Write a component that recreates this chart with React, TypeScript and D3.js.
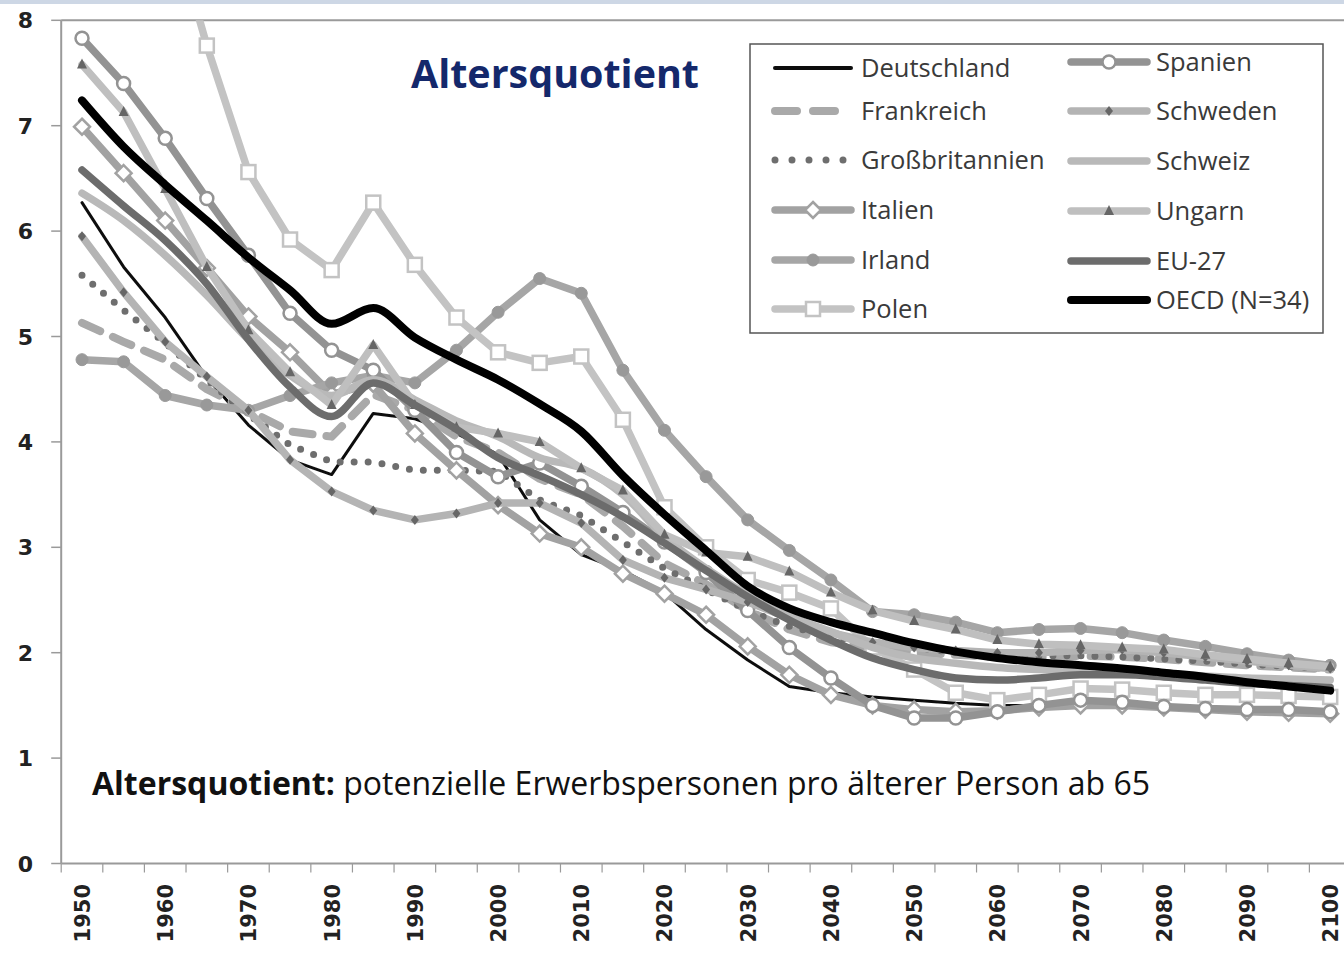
import React from "react";
import * as d3 from "d3";

const years = [1950,1955,1960,1965,1970,1975,1980,1985,1990,1995,2000,2005,2010,2015,2020,2025,2030,2035,2040,2045,2050,2055,2060,2065,2070,2075,2080,2085,2090,2095,2100];
const yearLabels = [1950,1960,1970,1980,1990,2000,2010,2020,2030,2040,2050,2060,2070,2080,2090,2100];
const yTicks = [0,1,2,3,4,5,6,7,8];

const deutschland = [6.27,5.66,5.18,4.61,4.16,3.83,3.69,4.27,4.22,4.08,3.88,3.26,2.93,2.78,2.57,2.22,1.93,1.68,1.62,1.58,1.55,1.52,1.50,1.50,1.50,1.50,1.49,1.47,1.45,1.43,1.41];
const frankreich = [5.13,4.95,4.78,4.50,4.30,4.10,4.05,4.45,4.30,4.05,3.90,3.65,3.50,3.20,2.85,2.65,2.40,2.22,2.10,2.05,2.00,1.98,1.96,1.96,1.97,1.96,1.94,1.91,1.88,1.86,1.84];
const grossbritannien = [5.58,5.25,4.94,4.59,4.26,3.97,3.81,3.81,3.73,3.73,3.72,3.45,3.30,3.05,2.80,2.60,2.40,2.25,2.15,2.10,2.05,2.00,1.98,1.97,1.97,1.96,1.94,1.92,1.89,1.87,1.85];
const italien = [6.99,6.55,6.10,5.65,5.19,4.85,4.45,4.55,4.08,3.73,3.40,3.13,3.00,2.75,2.56,2.36,2.06,1.79,1.60,1.50,1.46,1.44,1.45,1.48,1.50,1.50,1.48,1.46,1.44,1.43,1.42];
const irland = [4.78,4.76,4.44,4.35,4.30,4.44,4.56,4.63,4.56,4.87,5.23,5.55,5.41,4.68,4.11,3.67,3.26,2.97,2.69,2.39,2.36,2.29,2.19,2.22,2.23,2.19,2.12,2.06,1.99,1.93,1.88];
const polen = [9.00,9.10,9.15,7.76,6.56,5.92,5.63,6.27,5.68,5.18,4.85,4.75,4.81,4.21,3.38,3.00,2.69,2.57,2.42,2.05,1.84,1.62,1.55,1.60,1.66,1.65,1.62,1.60,1.60,1.59,1.58];
const spanien = [7.83,7.40,6.88,6.31,5.77,5.22,4.87,4.68,4.30,3.90,3.67,3.80,3.58,3.33,3.05,2.76,2.40,2.05,1.76,1.50,1.38,1.38,1.44,1.50,1.55,1.53,1.49,1.47,1.46,1.46,1.44];
const schweden = [5.95,5.42,4.95,4.62,4.30,3.83,3.53,3.35,3.26,3.32,3.42,3.42,3.23,2.88,2.71,2.60,2.48,2.33,2.19,2.10,2.05,2.02,2.00,2.00,2.02,2.03,2.00,1.96,1.92,1.88,1.85];
const schweiz = [6.36,6.10,5.77,5.39,4.97,4.63,4.44,4.59,4.40,4.20,4.05,3.85,3.75,3.50,3.10,2.80,2.55,2.35,2.20,2.05,1.95,1.90,1.86,1.84,1.83,1.82,1.80,1.78,1.76,1.75,1.74];
const ungarn = [7.58,7.13,6.40,5.66,5.06,4.66,4.35,4.92,4.35,4.14,4.08,4.00,3.75,3.54,3.12,2.95,2.91,2.77,2.57,2.40,2.30,2.22,2.12,2.08,2.07,2.05,2.03,1.98,1.94,1.90,1.87];
const eu27 = [6.58,6.24,5.91,5.50,4.97,4.52,4.24,4.56,4.35,4.12,3.85,3.68,3.50,3.29,3.04,2.78,2.53,2.31,2.12,1.95,1.84,1.76,1.74,1.76,1.79,1.79,1.77,1.74,1.71,1.69,1.67];
const oecd = [7.24,6.80,6.44,6.10,5.75,5.44,5.12,5.27,4.99,4.78,4.59,4.36,4.10,3.68,3.31,2.97,2.63,2.42,2.29,2.19,2.09,2.01,1.95,1.91,1.88,1.85,1.81,1.77,1.72,1.68,1.64];

type Marker = "none" | "circleWhite" | "diamondWhite" | "circleGray" | "squareWhite" | "diamondDark" | "triangleDark";
interface Series { name: string; values: number[]; color: string; width: number; dash?: string; marker: Marker; markerColor?: string; smooth?: boolean; }

const series: Series[] = [
  { name: "Deutschland", values: deutschland, color: "#111", width: 3, marker: "none" },
  { name: "Frankreich", values: frankreich, color: "#a9a9a9", width: 8, dash: "20 14", marker: "none" },
  { name: "Großbritannien", values: grossbritannien, color: "#6e6e6e", width: 7, dash: "0 14", marker: "none" },
  { name: "Italien", values: italien, color: "#a2a2a2", width: 7.5, marker: "diamondWhite" },
  { name: "Irland", values: irland, color: "#a6a6a6", width: 7.5, marker: "circleGray", markerColor: "#999" },
  { name: "Polen", values: polen, color: "#c3c3c3", width: 7.5, marker: "squareWhite" },
  { name: "Spanien", values: spanien, color: "#939393", width: 7.5, marker: "circleWhite" },
  { name: "Schweden", values: schweden, color: "#b4b4b4", width: 7.5, marker: "diamondDark", markerColor: "#666" },
  { name: "Schweiz", values: schweiz, color: "#b9b9b9", width: 7.5, marker: "none", smooth: true },
  { name: "Ungarn", values: ungarn, color: "#bfbfbf", width: 7.5, marker: "triangleDark", markerColor: "#666" },
  { name: "EU-27", values: eu27, color: "#6c6c6c", width: 7.5, marker: "none", smooth: true },
  { name: "OECD (N=34)", values: oecd, color: "#000", width: 8, marker: "none", smooth: true },
];

const W = 1344, H = 954;
const plotLeft = 61.2, plotTop = 20.3, plotBottom = 863.5;

function MarkerShape({ m, cx, cy, color, mcolor }: { m: Marker; cx: number; cy: number; color: string; mcolor?: string }) {
  switch (m) {
    case "circleWhite":
      return <circle cx={cx} cy={cy} r={6.5} fill="#fff" stroke={color} strokeWidth={2.5} />;
    case "circleGray":
      return <circle cx={cx} cy={cy} r={6} fill={mcolor} stroke={mcolor} strokeWidth={1} />;
    case "squareWhite":
      return <rect x={cx - 7} y={cy - 7} width={14} height={14} fill="#fff" stroke={color} strokeWidth={2.5} />;
    case "diamondWhite":
      return <path d={`M${cx},${cy - 8}L${cx + 8},${cy}L${cx},${cy + 8}L${cx - 8},${cy}Z`} fill="#fff" stroke={color} strokeWidth={2.5} />;
    case "diamondDark":
      return <path d={`M${cx},${cy - 5}L${cx + 4},${cy}L${cx},${cy + 5}L${cx - 4},${cy}Z`} fill={mcolor} />;
    case "triangleDark":
      return <path d={`M${cx},${cy - 6}L${cx + 5},${cy + 4}L${cx - 5},${cy + 4}Z`} fill={mcolor} />;
    default:
      return null;
  }
}

export default function App() {
  const x = d3.scaleLinear().domain([1947.5, 2102.5]).range([plotLeft, 1351]);
  const y = d3.scaleLinear().domain([0, 8]).range([plotBottom, plotTop]);
  const catTicks = d3.range(0, 32).map((i) => 1947.5 + 5 * i);

  const lineGen = (s: Series) =>
    d3.line<number>()
      .x((_, i) => x(years[i]))
      .y((v) => y(v))
      .curve(s.smooth ? d3.curveMonotoneX : d3.curveLinear)(s.values) || "";

  const legendLeft = series.slice(0, 6);
  const legendRight = series.slice(6);
  const leftYs = [68, 111, 160, 210, 260, 309];
  const rightYs = [62, 111, 161, 211, 261, 300];

  const legendSample = (s: Series, x0: number, x1: number, cy: number) => {
    const cx = (x0 + x1) / 2;
    return (
      <g key={s.name}>
        <line x1={x0} x2={x1} y1={cy} y2={cy} stroke={s.color}
          strokeWidth={s.name === "Deutschland" ? 4 : s.width}
          strokeDasharray={s.dash === "20 14" ? "22 16" : s.dash === "0 14" ? "0 17" : undefined}
          strokeLinecap="round" />
        <MarkerShape m={s.marker} cx={cx} cy={cy} color={s.color} mcolor={s.markerColor} />
      </g>
    );
  };

  const sans = "'Open Sans', 'Noto Sans', sans-serif";

  return (
    <svg width={W} height={H} style={{ position: "absolute", left: 0, top: 0, background: "#fff" }}
      fontFamily={sans}>
      <defs>
        <clipPath id="plotclip">
          <rect x={plotLeft + 1} y={plotTop} width={W - plotLeft} height={plotBottom - plotTop} />
        </clipPath>
        <filter id="soft" x="-5%" y="-5%" width="110%" height="110%">
          <feGaussianBlur stdDeviation="0.7" />
        </filter>
      </defs>
      <rect x={0} y={0} width={W} height={H} fill="#fff" />
      <rect x={0} y={0} width={W} height={4} fill="#cdd7e5" />

      {/* frame top line */}
      <line x1={plotLeft} x2={W} y1={plotTop} y2={plotTop} stroke="#9a9a9a" strokeWidth={2} />
      {/* y axis */}
      <line x1={plotLeft} x2={plotLeft} y1={plotTop} y2={plotBottom} stroke="#9a9a9a" strokeWidth={2} />
      {yTicks.map((t) => (
        <g key={t}>
          <line x1={plotLeft - 10} x2={plotLeft} y1={y(t)} y2={y(t)} stroke="#9a9a9a" strokeWidth={1.5} />
          <text x={33} y={y(t) + 8} textAnchor="end" fontFamily="'DejaVu Sans', sans-serif" fontWeight="bold" fontSize={22} fill="#222">{t}</text>
        </g>
      ))}
      {/* x axis */}
      <line x1={plotLeft} x2={W} y1={plotBottom} y2={plotBottom} stroke="#9a9a9a" strokeWidth={2} />
      {catTicks.map((t) => (
        <line key={t} x1={x(t)} x2={x(t)} y1={plotBottom} y2={plotBottom + 9} stroke="#9a9a9a" strokeWidth={1.2} />
      ))}
      {yearLabels.map((yr) => (
        <text key={yr} transform={`translate(${x(yr) + 8},${884}) rotate(-90)`} textAnchor="end"
          fontFamily="'DejaVu Sans', sans-serif" fontWeight="bold" fontSize={21} fill="#222">{yr}</text>
      ))}

      {/* series */}
      <g clipPath="url(#plotclip)" filter="url(#soft)">
        {series.map((s) => (
          <g key={s.name}>
            <path d={lineGen(s)} fill="none" stroke={s.color} strokeWidth={s.width}
              strokeDasharray={s.dash} strokeLinecap="round" strokeLinejoin="round" />
            {s.marker !== "none" && s.values.map((v, i) => (
              <MarkerShape key={i} m={s.marker} cx={x(years[i])} cy={y(v)} color={s.color} mcolor={s.markerColor} />
            ))}
          </g>
        ))}
      </g>

      {/* title */}
      <text x={411} y={88} fontWeight="bold" fontSize={39} fill="#14286b" textLength={288} lengthAdjust="spacingAndGlyphs">Altersquotient</text>

      {/* legend */}
      <rect x={750} y={44} width={573} height={289} fill="#fff" stroke="#555" strokeWidth={1.5} />
      <g filter="url(#soft)">
        {legendLeft.map((s, i) => legendSample(s, 775, 851, leftYs[i]))}
        {legendRight.map((s, i) => legendSample(s, 1071, 1147, rightYs[i]))}
      </g>
      {legendLeft.map((s, i) => (
        <text key={s.name} x={861} y={leftYs[i] + 9} fontSize={25.5} fill="#3a3a3a">{s.name}</text>
      ))}
      {legendRight.map((s, i) => (
        <text key={s.name} x={1156} y={rightYs[i] + 9} fontSize={25.5} fill="#3a3a3a">{s.name}</text>
      ))}

      {/* annotation */}
      <text x={92} y={795} fontSize={32} fill="#111" textLength={1058} lengthAdjust="spacingAndGlyphs">
        <tspan fontWeight="bold">Altersquotient:</tspan>
        <tspan> potenzielle Erwerbspersonen pro älterer Person ab 65</tspan>
      </text>
    </svg>
  );
}
